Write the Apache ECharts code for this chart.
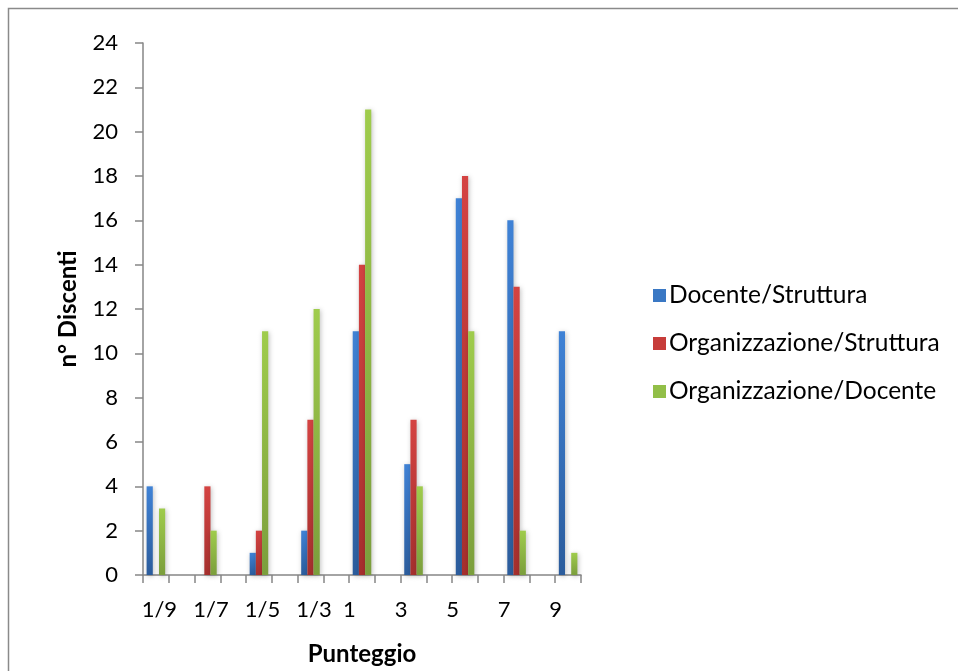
<!DOCTYPE html>
<html>
<head>
<meta charset="utf-8">
<script src="https://cdn.jsdelivr.net/npm/echarts@6/dist/echarts.min.js"></script>
<style>
html,body{margin:0;padding:0;background:#fff;}
#chart{width:958px;height:671px;}
</style>
</head>
<body>
<div id="chart"></div>
<script>
var categories = ['1/9','1/8','1/7','1/6','1/5','1/4','1/3','1/2','1','2','3','4','5','6','7','8','9'];
var docenteStruttura = [4, null, 0, null, 1, null, 2, null, 11, null, 5, null, 17, null, 16, null, 11];
var organizzazioneStruttura = [0, null, 4, null, 2, null, 7, null, 14, null, 7, null, 18, null, 13, null, 0];
var organizzazioneDocente = [3, null, 2, null, 11, null, 12, null, 21, null, 4, null, 11, null, 2, null, 1];
var seriesNames = ['Docente/Struttura', 'Organizzazione/Struttura', 'Organizzazione/Docente'];
var yTicks = {min: 0, max: 24, interval: 2};

var FONT = 'Lato';
function grad(top, bottom) {
  return new echarts.graphic.LinearGradient(0, 0, 0, 1, [
    {offset: 0, color: top}, {offset: 1, color: bottom}
  ]);
}
var colors = [grad('#3f82d6', '#2b5c9c'), grad('#d44342', '#a52f2d'), grad('#9fcc4c', '#7b9e3c')];
var legendColors = ['#3a78c4', '#c73c3a', '#92bf48'];

function barSeries(name, data, i) {
  return {
    name: name,
    type: 'bar',
    data: data,
    barGap: '0%',
    barCategoryGap: '28%',
    itemStyle: {
      color: colors[i],
      shadowColor: 'rgba(0,0,0,0.25)',
      shadowBlur: 5,
      shadowOffsetX: 1,
      shadowOffsetY: 1
    },
    emphasis: {disabled: true}
  };
}

var chart = echarts.init(document.getElementById('chart'), null, {renderer: 'canvas'});
chart.setOption({
  animation: false,
  backgroundColor: '#fff',
  textStyle: {fontFamily: FONT},
  graphic: [{
    type: 'rect',
    shape: {x: 8.5, y: 8.5, width: 1000, height: 1000},
    style: {fill: 'none', stroke: '#8a8a8a', lineWidth: 1.5},
    silent: true
  }],
  legend: {
    orient: 'vertical',
    left: 648,
    top: 278,
    itemWidth: 13,
    itemHeight: 13,
    itemGap: 23,
    icon: 'rect',
    data: seriesNames.map(function (n, i) {
      return {name: n, itemStyle: {color: legendColors[i]}};
    }),
    textStyle: {fontFamily: FONT, fontSize: 24.5, color: '#000', padding: [0, 0, 0, -2]}
  },
  grid: {left: 143, right: 377, top: 43, bottom: 94, containLabel: false},
  xAxis: {
    type: 'category',
    data: categories,
    name: 'Punteggio',
    nameLocation: 'middle',
    nameGap: 67,
    nameTextStyle: {fontFamily: FONT, fontWeight: 'bold', fontSize: 24, color: '#000'},
    axisLine: {lineStyle: {color: '#868686', width: 1.5}},
    axisTick: {show: true, interval: 0, length: 8, lineStyle: {color: '#868686', width: 1.5}},
    axisLabel: {
      interval: 1,
      margin: 24,
      fontFamily: FONT,
      fontSize: 22,
      color: '#000',
      formatter: function (v) {
        return v.indexOf('/') >= 0 ? '{l|' + v + '}' : '{s|' + v + '}';
      },
      rich: {
        l: {fontFamily: FONT, fontSize: 22, color: '#000', padding: [0, 0, 0, 7]},
        s: {fontFamily: FONT, fontSize: 22, color: '#000', padding: [0, 25, 0, 0]}
      }
    },
    splitLine: {show: false}
  },
  yAxis: {
    type: 'value',
    min: yTicks.min,
    max: yTicks.max,
    interval: yTicks.interval,
    name: 'n° Discenti',
    nameLocation: 'middle',
    nameGap: 63,
    nameRotate: 90,
    nameTextStyle: {fontFamily: FONT, fontWeight: 'bold', fontSize: 24, color: '#000'},
    axisLine: {show: true, lineStyle: {color: '#868686', width: 1.5}},
    axisTick: {show: true, length: 8, lineStyle: {color: '#868686', width: 1.5}},
    axisLabel: {margin: 25, fontFamily: FONT, fontSize: 22, color: '#000'},
    splitLine: {show: false}
  },
  series: [
    barSeries(seriesNames[0], docenteStruttura, 0),
    barSeries(seriesNames[1], organizzazioneStruttura, 1),
    barSeries(seriesNames[2], organizzazioneDocente, 2)
  ]
});
</script>
</body>
</html>
